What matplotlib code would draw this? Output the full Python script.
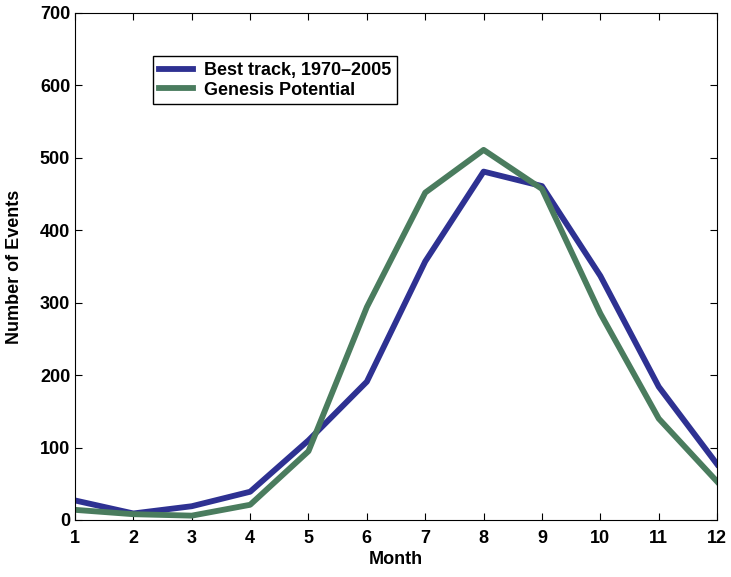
import matplotlib
matplotlib.use('Agg')
import matplotlib.pyplot as plt

plt.rcParams['font.family'] = 'Liberation Sans'
plt.rcParams['font.weight'] = 'bold'

months = list(range(1, 13))
best_track = [27, 9, 19, 39, 110, 191, 357, 481, 461, 337, 184, 77]
genesis = [14, 8, 6, 21, 95, 294, 452, 511, 457, 285, 140, 53]

fig = plt.figure(figsize=(7.31, 5.77), dpi=100)
ax = fig.add_axes([0.1026, 0.0988, 0.8784, 0.8787])

ax.plot(months, best_track, color='#2e3192', lw=4.2, label='Best track, 1970\u20132005')
ax.plot(months, genesis, color='#4a7c5e', lw=4.2, label='Genesis Potential')

ax.set_xlim(1, 12)
ax.set_ylim(0, 700)
ax.set_xticks(months)
ax.set_yticks(range(0, 701, 100))
ax.tick_params(direction='in', top=True, right=True, labelsize=13, length=5)
ax.tick_params(axis='x', pad=7)
for lab in ax.get_xticklabels() + ax.get_yticklabels():
    lab.set_fontweight('bold')
ax.set_xlabel('Month', fontsize=13, fontweight='bold', labelpad=3)
ax.set_ylabel('Number of Events', fontsize=13, fontweight='bold', labelpad=12)

leg = ax.legend(loc='upper left', bbox_to_anchor=(0.108, 0.932), fontsize=13,
                fancybox=False, edgecolor='black', framealpha=1,
                handlelength=1.9, borderpad=0.3, labelspacing=0.15,
                handletextpad=0.6)
leg.get_frame().set_linewidth(1.0)

plt.savefig('out.png', dpi=100)
